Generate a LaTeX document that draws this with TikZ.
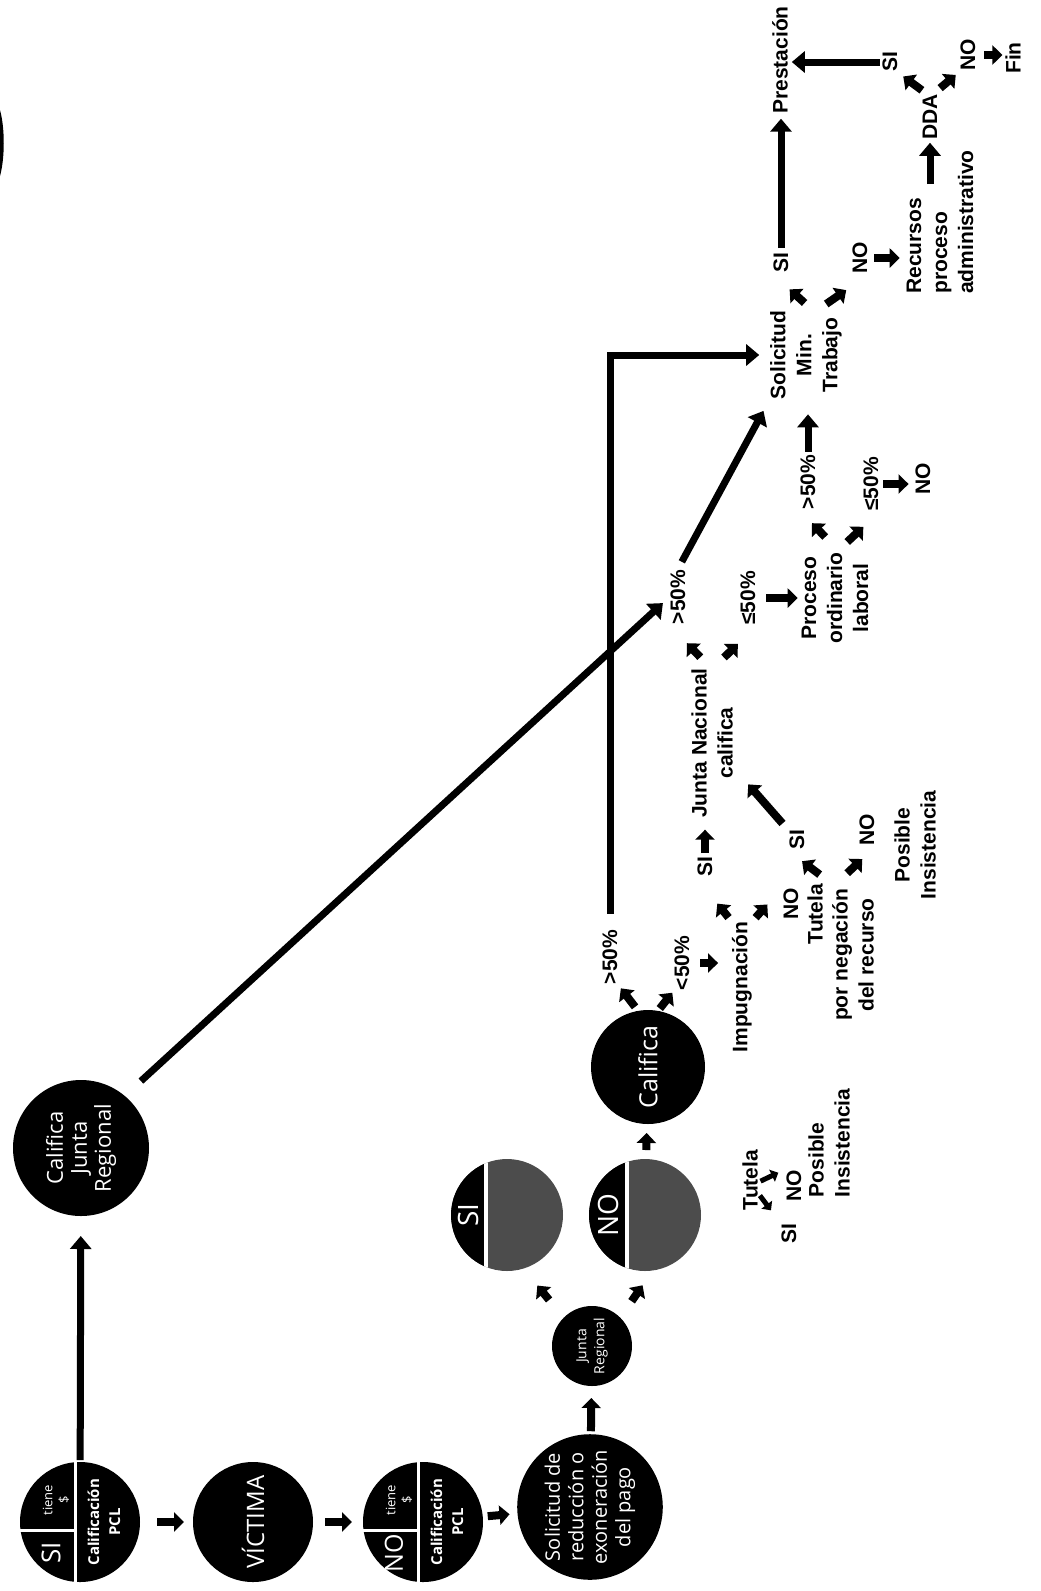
\documentclass[tikz,border=0pt]{standalone}
\usepackage{fontspec}
\setmainfont{Open Sans}
\newfontfamily\etiqfont{Liberation Sans}
\usetikzlibrary{arrows.meta,calc}

\tikzset{
  disco/.style={circle, fill=black, inner sep=0pt, outer sep=0pt},
  bola/.style={disco, text=white, align=center, rotate=90,
    font=\fontsize{20}{23.5}\selectfont},
  dentro/.style={rotate=90, text=white, inner sep=0pt, align=center},
  etiq/.style={rotate=90, inner sep=1pt, outer sep=0pt, align=center,
    font=\etiqfont\bfseries\fontsize{21}{26}\selectfont},
  fat/.style={line width=8pt, -{Triangle[length=10pt,width=19pt]}},
  conn/.style={line width=7pt, -{Triangle[length=13pt,width=21pt]}},
  chica/.style={line width=5pt, -{Triangle[length=7pt,width=13pt]}},
  blanco/.style={white, line width=3pt},
}

\begin{document}
\begin{tikzpicture}[x=1pt, y=-1pt]
\useasboundingbox (0,0) rectangle (1041,1591);

% borde recortado arriba a la izquierda
\fill (0,110) .. controls (5,128) and (5,158) .. (0,176) -- cycle;

% circulos
\node[bola, minimum size=136pt, font=\fontsize{22}{24}\selectfont] (cjr) at (81,1148) {Califica\\Junta\\Regional};
\node[disco, minimum size=120pt] (pcl1) at (80,1522) {};
\node[bola, minimum size=120pt, font=\fontsize{24}{26}\selectfont] (vic) at (253,1522) {VÍCTIMA};
\node[disco, minimum size=120pt] (pcl2) at (423,1522) {};
\node[bola, minimum size=134pt] (sol) at (590,1507) {Solicitud de\\reducción o\\exoneración\\del pago};
\node[bola, minimum size=80pt, font=\fontsize{14}{18}\selectfont] (jreg) at (592,1346) {Junta\\Regional};
\node[disco, fill=black!70, minimum size=112pt] (jsi) at (507,1215) {};
\node[disco, fill=black!70, minimum size=112pt] (jno) at (645,1215) {};
\node[bola, minimum size=114pt, font=\fontsize{25}{28}\selectfont] (cal) at (648,1067) {Califica};

% cuadrantes de los circulos PCL
\draw[blanco] ([xshift=-5pt]pcl1.north) -- ([xshift=-5pt]pcl1.south);
\draw[blanco] ([yshift=-8pt]pcl1.west) -- ([xshift=-5pt,yshift=-8pt]pcl1.center);
\node[dentro, font=\fontsize{26}{26}\selectfont] (si0) at (51,1553) {SI};
\node[dentro, font=\fontsize{13}{16}\selectfont] (tie1) at (56,1500) {tiene\\\$};
\node[dentro, font=\bfseries\fontsize{15}{21}\selectfont] (cp1) at (104,1522) {Calificación\\PCL};
\draw[blanco] ([xshift=-5pt]pcl2.north) -- ([xshift=-5pt]pcl2.south);
\draw[blanco] ([yshift=-8pt]pcl2.west) -- ([xshift=-5pt,yshift=-8pt]pcl2.center);
\node[dentro, font=\fontsize{25}{25}\selectfont] (no0) at (394,1553) {NO};
\node[dentro, font=\fontsize{13}{16}\selectfont] (tie2) at (399,1500) {tiene\\\$};
\node[dentro, font=\bfseries\fontsize{15}{21}\selectfont] (cp2) at (447,1522) {Calificación\\PCL};

% medios circulos SI / NO
\begin{scope}
  \clip (jsi) circle (56pt);
  \fill (440,1150) rectangle (484,1280);
  \fill[white] (484,1150) rectangle (488,1280);
\end{scope}
\begin{scope}
  \clip (jno) circle (56pt);
  \fill (578,1150) rectangle (625,1280);
  \fill[white] (625,1150) rectangle (629,1280);
\end{scope}
\node[dentro, font=\fontsize{28}{28}\selectfont] (jsitx) at (468,1215) {SI};
\node[dentro, font=\fontsize{28}{28}\selectfont] (jnotx) at (608,1215) {NO};

% etiquetas
\node[etiq] (gt1) at (610,957) {>50\%};
\node[etiq] (lt1) at (682,963) {<50\%};
\node[etiq] (imp) at (742,987) {Impugnación};
\node[etiq] (si1) at (705,867) {SI};
\node[etiq] (jnac) at (712,743) {Junta Nacional\\califica};
\node[etiq] (no1) at (791,904) {NO};
\node[etiq] (tut) at (815,914) {Tutela};
\node[etiq] (tutb) at (853,955) {por negación\\del recurso};
\node[etiq] (si2) at (797,840) {SI};
\node[etiq] (no2) at (867,830) {NO};
\node[etiq] (pins) at (915,845) {Posible\\Insistencia};
\node[etiq] (gt2) at (678,597) {>50\%};
\node[etiq] (le1) at (748,598) {≤50\%};
\node[etiq] (proc) at (835,598) {Proceso\\ordinario\\laboral};
\node[etiq] (gt3) at (808,482) {>50\%};
\node[etiq] (le2) at (871,484) {≤50\%};
\node[etiq] (no3) at (923,479) {NO};
\node[etiq] (smt) at (806,355) {Solicitud\\Min.\\Trabajo};
\node[etiq] (si3) at (781,263) {SI};
\node[etiq] (pres) at (780,60) {Prestación};
\node[etiq] (no4) at (860,258) {NO};
\node[etiq, align=left] (rec) at (940,222) {Recursos\\proceso\\administrativo};
\node[etiq] (dda) at (930,117) {DDA};
\node[etiq] (si4) at (890,62) {SI};
\node[etiq] (no5) at (968,55) {NO};
\node[etiq] (fin) at (1013,58) {Fin};
\node[etiq] (tut2) at (750,1180) {Tutela};
\node[etiq] (si5) at (789,1234) {SI};
\node[etiq] (no6) at (794,1186) {NO};
\node[etiq, align=left] (pins2) at (829,1143) {Posible\\Insistencia};

% flechas cortas
\draw[fat, shorten <=17pt, shorten >=9pt] (pcl1) -- (vic);
\draw[fat, shorten <=12pt, shorten >=11pt] (vic) -- (pcl2);
\draw[fat, shorten <=5pt, shorten >=8pt] (pcl2) -- (sol);
\draw[fat, shorten <=3pt, shorten >=12pt] (sol) -- (jreg);
\draw[fat, shorten <=23pt, shorten >=22pt] (jreg.45) -- (jsi.287);
\draw[fat, shorten <=20pt, shorten >=18pt] (jreg.315) -- (jno.278);
\draw[fat, shorten <=9pt, shorten >=9pt] (jno) -- (cal);
\draw[fat, shorten <=5pt, shorten >=4pt] (cal.10) -- (gt1.south west);
\draw[fat, shorten <=3pt, shorten >=2pt] (cal.350) -- (lt1.north west);
\draw[fat, shorten <=10pt, shorten >=13pt] (lt1.south) -- (lt1.south -| imp.north);
\draw[fat, shorten <=4pt, shorten >=33pt] (imp.north east) -- (si1.north west);
\draw[fat, shorten <=4pt, shorten >=23pt] (imp.south east) -- (no1.north east);
\draw[fat, shorten <=3pt, shorten >=11pt] (si1.east) -- (si1.east |- jnac.west);
\draw[fat, shorten <=18pt, shorten >=17pt] ($(tut.east)!.5!(tutb.east)$) -- (si2.north west);
\draw[fat, shorten <=18pt, shorten >=18pt] ($(tut.east)!.5!(tutb.east)$) -- (no2.south west);
\draw[fat, shorten <=22pt, shorten >=55pt] (si2.center) -- (jnac.center);
\draw[fat, shorten <=14pt, shorten >=25pt] ([xshift=-2pt]jnac.east) -- (gt2.north west);
\draw[fat, shorten <=14pt, shorten >=26pt] ([xshift=2pt]jnac.east) -- (le1.south west);
\draw[fat, shorten <=10pt, shorten >=3pt] (le1.south) -- (le1.south -| proc.north);
\draw[fat, shorten <=20pt, shorten >=18pt] ([xshift=4pt]proc.east) -- (gt3.north west);
\draw[fat, shorten <=14pt, shorten >=22pt] ([xshift=2pt]proc.east) -- (le2.south west);
\draw[fat, shorten <=4pt, shorten >=6pt] (le2.south) -- (le2.south -| no3.north);
\draw[fat, shorten <=10pt, shorten >=23pt] ([xshift=6pt]smt.east) -- (si3.north west);
\draw[fat, shorten <=10pt, shorten >=27pt] ([xshift=12pt]smt.east) -- (no4.south west);
\draw[fat, shorten <=6pt, shorten >=6pt] (no4.south) -- (no4.south -| rec.north);
\draw[fat, shorten <=5pt, shorten >=6pt] ([xshift=-4pt]dda.east) -- (si4.south west);
\draw[fat, shorten <=8pt, shorten >=5pt] ([xshift=4pt]dda.east) -- (no5.north west);
\draw[fat, shorten <=8pt, shorten >=2pt] (no5.south) -- (no5.south -| fin.north);
\draw[chica, shorten <=2pt, shorten >=16pt] ([yshift=-14pt]tut2.south) -- (si5.north east);
\draw[chica, shorten <=2pt, shorten >=8pt] ([yshift=-2pt]tut2.south) -- (no6.north east);

% flechas largas
\draw[conn, shorten <=2pt, shorten >=20pt] (pcl1) -- (cjr);
\draw[conn, shorten <=22pt, shorten >=9pt] (cjr.320) -- (gt2.north);
\draw[conn, shorten <=15pt, shorten >=10pt] (gt1.east) |- (smt.north);
\draw[conn, shorten <=8pt, shorten >=12pt] (gt2.east) -- (smt.north west);
\draw[conn, shorten <=2pt, shorten >=14pt] (gt3.east) -- (gt3.east |- smt.west);
\draw[conn, shorten <=4pt, shorten >=4pt] (si3.east) -- (si3.east |- pres.west);
\draw[conn, shorten >=2pt] ([yshift=-35pt]rec.east -| dda.west) -- (dda.west);
\draw[conn, shorten <=2pt, shorten >=3pt] (si4.north) -- (si4.north -| pres.south);
\end{tikzpicture}
\end{document}
